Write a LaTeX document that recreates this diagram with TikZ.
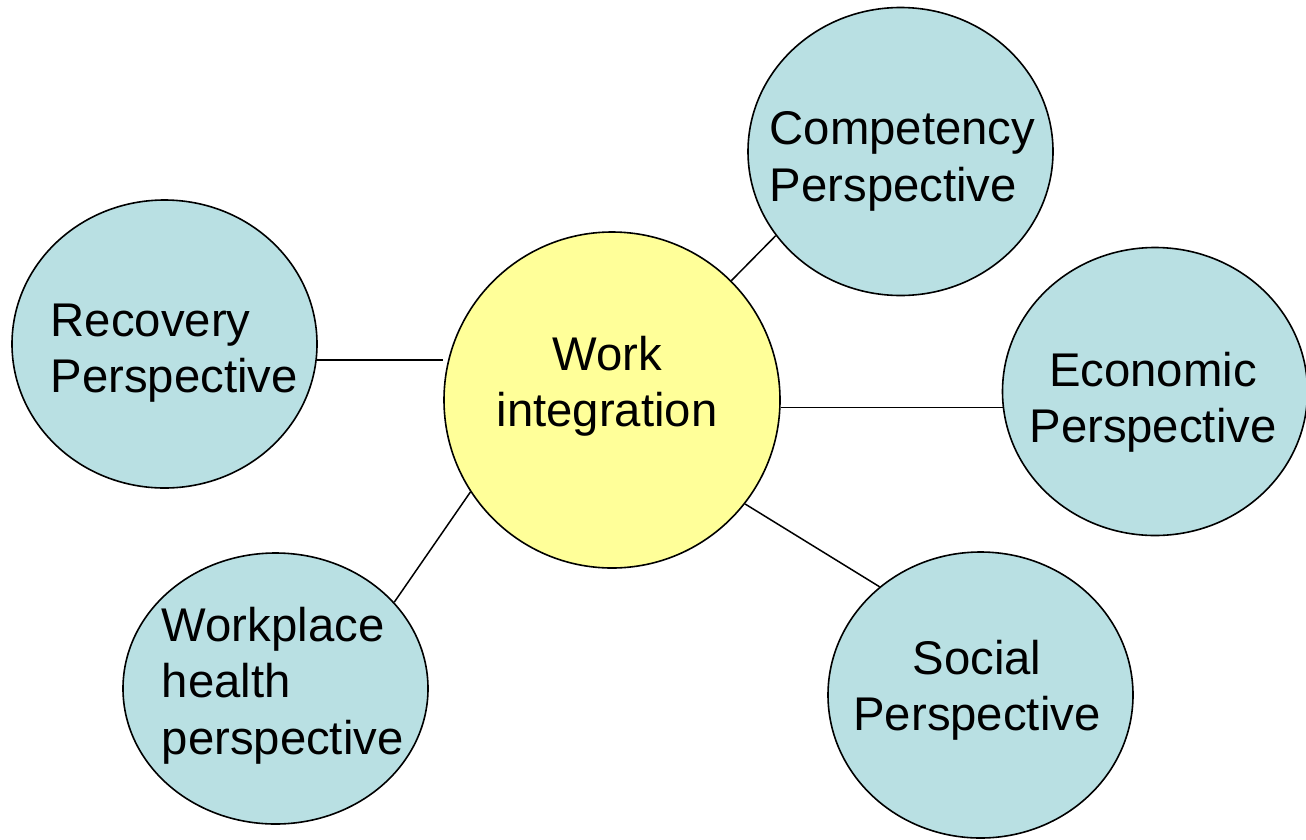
\documentclass[tikz,border=0pt]{standalone}
\usepackage{fontspec}
\setmainfont{Liberation Sans}
\usepackage{tikz}
\usetikzlibrary{shapes.geometric}
\definecolor{perspblue}{RGB}{185,224,227}
\definecolor{coreyellow}{RGB}{255,255,153}
\tikzset{
    persp/.style={shape=ellipse, draw=black, line width=1.6pt, fill=perspblue,
        inner sep=0pt, minimum width=305pt, minimum height=288pt},
    caption/.style={inner sep=0pt, font=\fontsize{47.3}{56.5}\selectfont}}

\begin{document}
\begin{tikzpicture}[x=1pt, y=-1pt, line width=1.5pt]
    \useasboundingbox (0,0) rectangle (1306,839);

    \node[persp, fill=coreyellow, minimum width=336pt, minimum height=336pt] (W) at (612,400) {};
    \node[persp] (C) at (900.5,151.5) {};
    \node[persp] (R) at (164.5,344) {};
    \node[persp] (E) at (1155,391.5) {};
    \node[persp, minimum height=271pt] (H) at (275.5,688.5) {};
    \node[persp, minimum height=286pt] (S) at (980.5,695) {};

    \node[caption, align=center, anchor=north] (Wtext) at (607,335) {Work\\integration};
    \node[caption, align=left, anchor=north west] (Ctext) at (769,111) {Competency\\Perspective};
    \node[caption, align=left, anchor=north west] (Rtext) at (50,303) {Recovery\\Perspective};
    \node[caption, align=center, anchor=north] (Etext) at (1153,351) {Economic\\Perspective};
    \node[caption, align=left, anchor=north west] (Htext) at (161,606) {Workplace\\health\\perspective};
    \node[caption, align=center, anchor=north] (Stext) at (977,639) {Social\\Perspective};

    \draw (W.45) -- (C.214);
    \draw (R.354) -- (R.354 -| W.west);
    \draw (W.east |- E.186) -- (E.186);
    \draw (H.36) -- (W.213);
    \draw (W.-38) -- (S.133);

\end{tikzpicture}
\end{document}
